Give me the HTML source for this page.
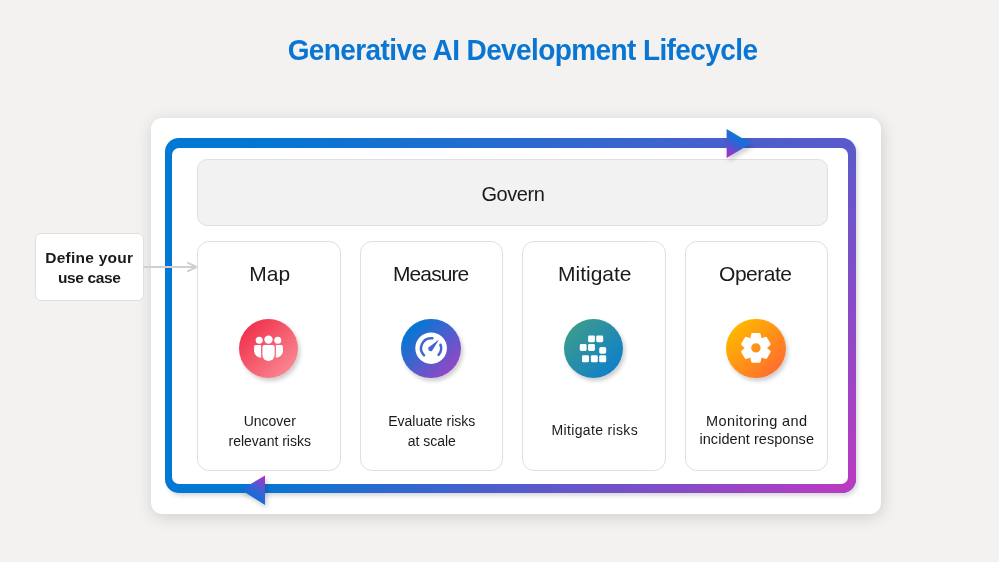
<!DOCTYPE html>
<html><head><meta charset="utf-8">
<style>
html,body{margin:0;padding:0;}
body{width:999px;height:562px;overflow:hidden;position:relative;background:#F3F2F1;font-family:"Liberation Sans",sans-serif;color:#1B1A19;}
.abs{position:absolute;}
#title{will-change:transform;transform:scaleY(1.065);transform-origin:50% 27.5px;left:0;width:1045px;top:32.6px;text-align:center;font-weight:bold;font-size:28px;line-height:36px;color:#0A76D3;letter-spacing:-0.6px;white-space:nowrap;}
#panel{left:150.5px;top:117.7px;width:730.7px;height:396.6px;background:#fff;border-radius:11px;box-shadow:1px 3px 16px rgba(0,0,0,0.15);}
#frsh{left:165px;top:138px;width:691px;height:355px;border-radius:14px;box-shadow:2px 3px 4px rgba(0,0,0,0.15);}
#frame{left:165px;top:138px;width:691px;height:355px;border-radius:14px;overflow:hidden;}
#frbase{left:0;top:0;width:100%;height:100%;background:#0078D4;}
#frameov{left:0;top:0;width:100%;height:100%;background:#BE39C1;
 -webkit-mask-image:linear-gradient(90deg,transparent 0px,transparent 78px,#000 691px),linear-gradient(180deg,rgba(0,0,0,0.475) 0px,#000 355px);
 -webkit-mask-composite:source-in;mask-composite:intersect;}
#hole{left:172px;top:148px;width:676px;height:336px;border-radius:7px;background:#fff;}
.box{box-sizing:border-box;border:1px solid #E1DFDD;}
#govern{left:197px;top:159px;width:630.5px;height:67px;background:#F2F2F2;border-radius:10px;}
.card{top:241px;width:143.5px;height:229.5px;background:#fff;border-radius:12px;}
.t{position:absolute;text-align:center;white-space:nowrap;will-change:transform;}
.h{font-size:21px;line-height:24px;top:262px;width:143.5px;}
.d{font-size:14px;line-height:19.5px;top:412.2px;width:143.5px;}
.circ{top:318.5px;width:59.5px;height:59.5px;border-radius:50%;box-shadow:2px 3px 4px rgba(0,0,0,0.2);}
#define{left:35px;top:233px;width:109px;height:68px;background:#fff;border-radius:6px;}
#deftxt{left:35px;width:108.5px;top:248px;font-weight:bold;font-size:15.5px;line-height:20px;}
svg{position:absolute;left:0;top:0;}
</style></head><body>
<div id="title" class="abs">Generative AI Development Lifecycle</div>
<div id="panel" class="abs"></div>
<div id="frsh" class="abs"></div>
<div id="frame" class="abs"><div id="frbase" class="abs"></div><div id="frameov" class="abs"></div></div>
<div id="hole" class="abs"></div>
<div id="govern" class="abs box"></div>
<div class="t" style="left:197.5px;width:630.5px;top:181.8px;font-size:20px;line-height:24px;letter-spacing:-0.42px;text-indent:-0.5px;">Govern</div>

<div class="card abs box" style="left:197px"></div>
<div class="card abs box" style="left:359.75px"></div>
<div class="card abs box" style="left:522.25px"></div>
<div class="card abs box" style="left:684.5px;width:143px"></div>

<div class="t h" style="left:197.5px">Map</div>
<div class="t h" style="left:360px;letter-spacing:-0.9px;text-indent:-2.1px">Measure</div>
<div class="t h" style="left:522.5px">Mitigate</div>
<div class="t h" style="left:685px;letter-spacing:-0.5px;text-indent:-2.9px">Operate</div>

<div class="abs circ" style="left:238.75px;background:linear-gradient(135deg,#F0344E 15%,#F98490 85%)"></div>
<div class="abs circ" style="left:401.25px;background:linear-gradient(135deg,#0078D4 15%,#9148C6 85%)"></div>
<div class="abs circ" style="left:563.75px;background:linear-gradient(135deg,#3A9A8F 15%,#1180C8 85%)"></div>
<div class="abs circ" style="left:726.25px;background:linear-gradient(135deg,#FFB600 15%,#FF6F2D 85%)"></div>

<div class="t d" style="left:197.5px">Uncover<br>relevant risks</div>
<div class="t d" style="left:360px;top:411.9px">Evaluate risks<br>at scale</div>
<div class="t d" style="left:522.5px;top:420.6px;letter-spacing:0.35px">Mitigate risks</div>
<div class="t d" style="left:685px;top:412.7px;line-height:17.8px;font-size:14.5px"><span style="letter-spacing:0.4px">Monitoring and</span><br><span style="letter-spacing:0.05px">incident response</span></div>

<div id="define" class="abs box"></div>
<div id="deftxt" class="t"><span style="letter-spacing:0.25px">Define your</span><br><span style="letter-spacing:-0.35px">use case</span></div>

<svg width="999" height="562" viewBox="0 0 999 562">
 <defs>
  <linearGradient id="ga" gradientUnits="userSpaceOnUse" x1="745" y1="133" x2="728" y2="158">
   <stop offset="0.25" stop-color="#1272D8"/><stop offset="0.55" stop-color="#3F5CD2"/><stop offset="1" stop-color="#B82AC8"/>
  </linearGradient>
  <linearGradient id="gb" gradientUnits="userSpaceOnUse" x1="247" y1="500" x2="264" y2="476">
   <stop offset="0.12" stop-color="#0A6ED8"/><stop offset="0.5" stop-color="#3A62D4"/><stop offset="1" stop-color="#B22EC8"/>
  </linearGradient>
  <filter id="sh" x="-50%" y="-50%" width="200%" height="200%"><feDropShadow dx="2" dy="3" stdDeviation="2.5" flood-color="#000" flood-opacity="0.2"/></filter>
 </defs>
 <polygon points="726.6,129 726.6,158 751,143.6" fill="url(#ga)" filter="url(#sh)"/>
 <polygon points="265,475.6 265,504.9 240.9,489.8" fill="url(#gb)" filter="url(#sh)"/>
 <!-- connector -->
 <g stroke="#D2D0CE" stroke-width="2" fill="none" stroke-linecap="round" stroke-linejoin="round">
  <line x1="144" y1="267" x2="196" y2="267"/>
  <polyline points="188,262.8 196.5,267 188,271.2"/>
 </g>
 <!-- map people icon -->
 <g fill="#fff">
  <circle cx="259.2" cy="340.2" r="3.5"/>
  <circle cx="268.5" cy="339.6" r="4.2"/>
  <circle cx="277.8" cy="340.2" r="3.5"/>
  <path d="M262.4 347 Q262.4 345 264.4 345 H272.6 Q274.6 345 274.6 347 V354.9 A6.1 6.1 0 0 1 262.4 354.9 Z"/>
  <path d="M254.1 346.5 Q254.1 345 255.6 345 H261.1 V357.8 A7.3 7.3 0 0 1 254.1 351.5 Z"/>
  <path d="M282.9 346.5 Q282.9 345 281.4 345 H275.9 V357.8 A7.3 7.3 0 0 0 282.9 351.5 Z"/>
 </g>
 <!-- measure gauge -->
 <circle cx="431.1" cy="348.2" r="15.8" fill="#fff"/>
 <g fill="none" stroke="#3F66D2" stroke-width="2.5" stroke-linecap="round">
  <path d="M424.03 355.27 A10 10 0 0 1 432.44 338.29"/>
  <path d="M440.50 344.78 A10 10 0 0 1 438.53 354.89"/>
 </g>
 <path d="M428.85 347.35 L438.0 340.2 Q438.8 339.7 438.5 340.6 L432.25 350.45 A2.3 2.3 0 0 1 428.85 347.35 Z" fill="#3F66D2"/>
 <!-- mitigate squares -->
 <g fill="#fff">
  <rect x="588.1" y="335.4" width="6.8" height="6.8" rx="1.4"/>
  <rect x="596.2" y="335.4" width="7" height="6.8" rx="1.4"/>
  <rect x="579.8" y="344.1" width="6.8" height="6.8" rx="1.4"/>
  <rect x="588.1" y="344.1" width="6.8" height="6.8" rx="1.4"/>
  <rect x="599.2" y="347" width="7" height="6.8" rx="1.8"/>
  <rect x="582" y="355.3" width="7" height="7" rx="1.4"/>
  <rect x="590.8" y="355.3" width="7" height="7" rx="1.4"/>
  <rect x="599.2" y="355.3" width="7" height="7" rx="1.4"/>
 </g>
 <!-- gear -->
 <g transform="translate(755.9 347.9)">
  <path fill="#fff" stroke="#fff" stroke-width="3" stroke-linejoin="round" fill-rule="evenodd" d="M-4.18 -8.97 L-3.31 -13.29 L3.31 -13.29 L4.18 -8.97 L5.68 -8.11 L9.85 -9.52 L13.17 -3.78 L9.86 -0.86 L9.86 0.86 L13.17 3.78 L9.85 9.52 L5.68 8.11 L4.18 8.97 L3.31 13.29 L-3.31 13.29 L-4.18 8.97 L-5.68 8.11 L-9.85 9.52 L-13.17 3.78 L-9.86 0.86 L-9.86 -0.86 L-13.17 -3.78 L-9.85 -9.52 L-5.68 -8.11Z M6.2 0 A6.2 6.2 0 1 0 -6.2 0 A6.2 6.2 0 1 0 6.2 0Z"/>
 </g>
</svg>
</body></html>
